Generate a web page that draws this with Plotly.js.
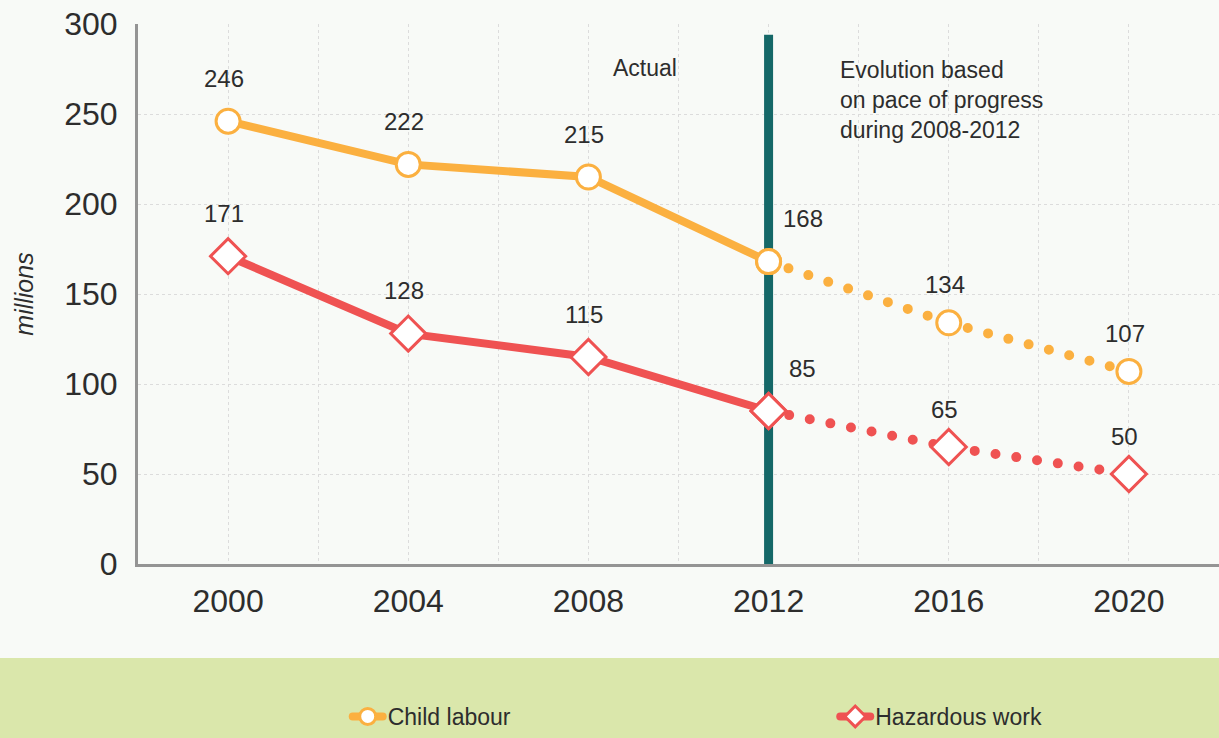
<!DOCTYPE html>
<html>
<head>
<meta charset="utf-8">
<script src="https://cdn.plot.ly/plotly-3.0.1.min.js"></script>
<style>
    body { margin: 0; background: #f8faf7; }
    #chart { width: 1219px; height: 738px; }
    /* round caps so the dotted projections come out as dots */
    .js-line { stroke-linecap: round; }
</style>
</head>
<body>
<div id="chart"></div>
<script>
var years = [2000, 2004, 2008, 2012, 2016, 2020];
var childLabour = [246, 222, 215, 168, 134, 107];
var hazardousWork = [171, 128, 115, 85, 65, 50];
var seriesNames = ["Child labour", "Hazardous work"];
var lastActual = 3;   // 2012 is the last measured year
var splitYear = 2012;
var textActual = "Actual";
var textProjected = "Evolution based<br>on pace of progress<br>during 2008-2012";

var orange = "#fbb040";
var red = "#ef5252";
var teal = "#156868";
var textColor = "#2d2d2d";

function actualPart(arr) {
    return arr.slice(0, lastActual + 1);
}

function projectedPart(arr) {
    return arr.slice(lastActual);
}

function make_traces(values, name, color, symbol, size, legendId) {
    var projected = {
        type: "scatter",
        mode: "lines+markers",
        x: projectedPart(years),
        y: projectedPart(values),
        showlegend: false,
        line: {color: color, width: 10, dash: "0px,21px"},
        marker: {symbol: symbol, size: size, color: "#ffffff", line: {color: color, width: 3}}
    };
    var actual = {
        type: "scatter",
        mode: "lines+markers",
        name: name,
        legend: legendId,
        x: actualPart(years),
        y: actualPart(values),
        line: {color: color, width: 8},
        marker: {symbol: symbol, size: size, color: "#ffffff", line: {color: color, width: 3}}
    };
    return [projected, actual];
}

function value_labels(values) {
    var notes = [];
    for (let i = 0; i < years.length; i++) {
        notes.push({
            x: years[i],
            y: values[i],
            text: String(values[i]),
            showarrow: false,
            yshift: i > lastActual ? 38 : 43,
            xshift: years[i] == splitYear ? 34 : -4,
            font: {size: 24, color: textColor}
        });
    }
    return notes;
}

function legend_box(xpos) {
    return {
        orientation: "h",
        x: xpos,
        xanchor: "left",
        y: -0.3222,
        yanchor: "bottom",
        bgcolor: "rgba(0,0,0,0)",
        font: {size: 23, color: textColor},
        itemsizing: "trace"
    };
}

function init_plot() {
    var graph_div = document.getElementById("chart");

    var data = []
        .concat(make_traces(childLabour, seriesNames[0], orange, "circle", 24, "legend"))
        .concat(make_traces(hazardousWork, seriesNames[1], red, "diamond", 27, "legend2"));

    var notes = value_labels(childLabour).concat(value_labels(hazardousWork));
    notes.push({
        x: 2009.25, y: 275.5, text: textActual, showarrow: false,
        font: {size: 23, color: textColor}
    });
    notes.push({
        x: 2013.55, y: 283, xanchor: "left", yanchor: "top", align: "left",
        text: textProjected, showarrow: false,
        font: {size: 23, color: textColor}
    });

    var gridStyle = {color: "#dcdcdc", dash: "3px,3px"};

    var layout = {
        width: 1219,
        height: 738,
        margin: {l: 138, r: 0, t: 24, b: 174},
        paper_bgcolor: "#f8faf7",
        plot_bgcolor: "#f8faf7",
        font: {family: "Liberation Sans, Arial, sans-serif", color: textColor},
        xaxis: {
            range: [1998, 2022],
            tick0: 2000,
            dtick: 4,
            ticks: "",
            ticklabelstandoff: 7,
            tickfont: {size: 32},
            showline: true,
            linecolor: "#949494",
            linewidth: 3,
            gridcolor: gridStyle.color,
            griddash: gridStyle.dash,
            zeroline: false,
            minor: {dtick: 2, tick0: 2000, showgrid: true, gridcolor: gridStyle.color, griddash: gridStyle.dash}
        },
        yaxis: {
            range: [0, 300],
            dtick: 50,
            ticks: "",
            ticklabelstandoff: 11,
            tickfont: {size: 32},
            showline: true,
            linecolor: "#949494",
            linewidth: 3,
            gridcolor: gridStyle.color,
            griddash: gridStyle.dash,
            zeroline: false,
            title: {text: "<i>millions</i>", standoff: 24, font: {size: 25}}
        },
        shapes: [
            {
                type: "rect", xref: "paper", yref: "paper",
                x0: -0.13, x1: 1, y0: -0.33, y1: -0.174,
                fillcolor: "#dae7ab", line: {width: 0}, layer: "below"
            },
            {
                type: "line", xref: "x", yref: "y",
                x0: splitYear, x1: splitYear, y0: 0, y1: 294,
                line: {color: teal, width: 9}, layer: "between"
            }
        ],
        annotations: notes,
        legend: legend_box(0.194),
        legend2: legend_box(0.645),
        showlegend: true
    };

    var settings = {staticPlot: true};

    Plotly.newPlot(graph_div, data, layout, settings);
}

init_plot();
</script>
</body>
</html>
